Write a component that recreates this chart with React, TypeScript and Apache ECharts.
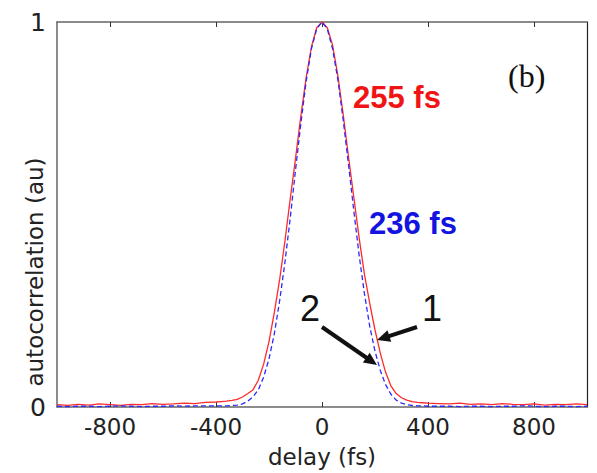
import React, { useEffect, useRef } from "react";
import * as echarts from "echarts";

const delaysLeft = [-1000, -960, -920, -880, -840, -800, -760, -720, -680, -640, -600, -560, -520, -480, -440];
const delaysCenter = [
  -400, -380, -360, -340, -320, -300, -280, -260, -240, -220, -200, -180, -160, -140, -120, -100, -80, -60, -40, -20,
  0, 20, 40, 60, 80, 100, 120, 140, 160, 180, 200, 220, 240, 260, 280, 300, 320, 340, 360, 380, 400,
];
const delaysRight = [440, 480, 520, 560, 600, 640, 680, 720, 760, 800, 840, 880, 920, 960, 1000];

const redLeft = [0.006, 0.004, 0.007, 0.005, 0.008, 0.006, 0.004, 0.007, 0.006, 0.009, 0.007, 0.008, 0.010, 0.009, 0.012];
const redCenter = [
  0.013, 0.014, 0.015, 0.017, 0.02, 0.026, 0.035, 0.045, 0.07, 0.112, 0.17, 0.245, 0.33, 0.43, 0.54, 0.645, 0.755, 0.855, 0.935, 0.985,
  1.0, 0.985, 0.94, 0.86, 0.76, 0.65, 0.545, 0.44, 0.345, 0.27, 0.2, 0.14, 0.09, 0.055, 0.035, 0.024, 0.018, 0.014, 0.012, 0.011, 0.010,
];
const redRight = [0.009, 0.008, 0.010, 0.007, 0.008, 0.006, 0.009, 0.007, 0.006, 0.008, 0.005, 0.007, 0.006, 0.008, 0.006];

const blueLeft = [0.002, 0.001, 0.002, 0.002, 0.001, 0.002, 0.003, 0.002, 0.001, 0.002, 0.002, 0.003, 0.002, 0.003, 0.003];
const blueCenter = [
  0.003, 0.003, 0.003, 0.004, 0.005, 0.008, 0.015, 0.027, 0.045, 0.078, 0.125, 0.19, 0.275, 0.375, 0.49, 0.615, 0.735, 0.845, 0.93, 0.982,
  1.0, 0.982, 0.93, 0.85, 0.745, 0.63, 0.51, 0.395, 0.295, 0.21, 0.145, 0.095, 0.058, 0.033, 0.018, 0.01, 0.006, 0.004, 0.003, 0.003, 0.002,
];
const blueRight = [0.002, 0.002, 0.001, 0.002, 0.002, 0.001, 0.002, 0.002, 0.003, 0.002, 0.001, 0.002, 0.002, 0.001, 0.002];

const xTicks = [-800, -400, 0, 400, 800];
const yTicks = [0, 1];

const delays = [...delaysLeft, ...delaysCenter, ...delaysRight];
const trace1 = [...redLeft, ...redCenter, ...redRight];
const trace2 = [...blueLeft, ...blueCenter, ...blueRight];

function arrow(x1: number, y1: number, x2: number, y2: number) {
  const dx = x2 - x1;
  const dy = y2 - y1;
  const len = Math.sqrt(dx * dx + dy * dy);
  const ux = dx / len;
  const uy = dy / len;
  const nx = -uy;
  const ny = ux;
  const hl = 13;
  const hw = 6;
  const bx = x2 - hl * ux;
  const by = y2 - hl * uy;
  return [
    {
      type: "line",
      shape: { x1, y1, x2: bx + ux * 2, y2: by + uy * 2 },
      style: { stroke: "#111", lineWidth: 4 },
      z: 10,
    },
    {
      type: "polygon",
      shape: {
        points: [
          [x2, y2],
          [bx + hw * nx, by + hw * ny],
          [bx - hw * nx, by - hw * ny],
        ],
      },
      style: { fill: "#111" },
      z: 10,
    },
  ];
}

export default function App() {
  const ref = useRef<HTMLDivElement>(null);
  useEffect(() => {
    if (!ref.current) return;
    const chart = echarts.init(ref.current, null, { renderer: "svg" });
    const labelFont = "DejaVu Sans";
    chart.setOption({
      animation: false,
      backgroundColor: "#fff",
      grid: { left: 57, right: 10, top: 22, bottom: 56, containLabel: false },
      xAxis: [
        {
          type: "value",
          min: -1000,
          max: 1000,
          position: "bottom",
          axisLine: { show: true, onZero: false, lineStyle: { color: "#666", width: 1.5 } },
          axisTick: { show: true, inside: true, length: 5, customValues: xTicks, lineStyle: { color: "#333" } },
          axisLabel: { customValues: xTicks, fontSize: 23, fontFamily: labelFont, color: "#222", margin: 8 },
          splitLine: { show: false },
          name: "delay (fs)",
          nameLocation: "middle",
          nameGap: 38,
          nameTextStyle: { fontSize: 23, fontFamily: labelFont, color: "#222" },
        },
        {
          type: "value",
          min: -1000,
          max: 1000,
          position: "top",
          axisLine: { show: true, onZero: false, lineStyle: { color: "#666", width: 1.5 } },
          axisTick: { show: true, inside: true, length: 5, customValues: xTicks, lineStyle: { color: "#333" } },
          axisLabel: { show: false },
          splitLine: { show: false },
        },
      ],
      yAxis: [
        {
          type: "value",
          min: 0,
          max: 1,
          interval: 1,
          position: "left",
          axisLine: { show: true, onZero: false, lineStyle: { color: "#666", width: 1.5 } },
          axisTick: { show: false },
          axisLabel: { customValues: yTicks, fontSize: 25, fontFamily: labelFont, color: "#222", margin: 11 },
          splitLine: { show: false },
        },
        {
          type: "value",
          min: 0,
          max: 1,
          interval: 1,
          position: "right",
          axisLine: { show: true, onZero: false, lineStyle: { color: "#222", width: 1.2 } },
          axisTick: { show: false },
          axisLabel: { show: false },
          splitLine: { show: false },
        },
      ],
      series: [
        {
          name: "1",
          type: "line",
          xAxisIndex: 0,
          yAxisIndex: 0,
          showSymbol: false,
          data: delays.map((d, i) => [d, trace1[i]]),
          lineStyle: { color: "#ff2a2a", width: 1.3 },
          z: 3,
        },
        {
          name: "2",
          type: "line",
          xAxisIndex: 0,
          yAxisIndex: 0,
          showSymbol: false,
          data: delays.map((d, i) => [d, trace2[i]]),
          lineStyle: { color: "#2a2aff", width: 1.3, type: [5, 3] },
          z: 4,
        },
      ],
      graphic: [
        {
          type: "text",
          x: 35,
          y: 272,
          rotation: Math.PI / 2,
          style: {
            text: "autocorrelation (au)",
            fontSize: 23,
            fontFamily: labelFont,
            fill: "#222",
            align: "center",
            verticalAlign: "middle",
          },
        },
        {
          type: "text",
          x: 353,
          y: 97,
          style: {
            text: "255 fs",
            fontSize: 31,
            fontWeight: "bold",
            fontFamily: "Liberation Sans",
            fill: "#f01414",
            align: "left",
            verticalAlign: "middle",
          },
        },
        {
          type: "text",
          x: 369,
          y: 223,
          style: {
            text: "236 fs",
            fontSize: 31,
            fontWeight: "bold",
            fontFamily: "Liberation Sans",
            fill: "#1414e0",
            align: "left",
            verticalAlign: "middle",
          },
        },
        {
          type: "text",
          x: 508,
          y: 76,
          style: {
            text: "(b)",
            fontSize: 32,
            fontFamily: "Liberation Serif",
            fill: "#111",
            align: "left",
            verticalAlign: "middle",
          },
        },
        {
          type: "text",
          x: 310,
          y: 308,
          style: {
            text: "2",
            fontSize: 36,
            fontFamily: "Liberation Sans",
            fill: "#111",
            align: "center",
            verticalAlign: "middle",
          },
        },
        {
          type: "text",
          x: 432,
          y: 308,
          style: {
            text: "1",
            fontSize: 36,
            fontFamily: "Liberation Sans",
            fill: "#111",
            align: "center",
            verticalAlign: "middle",
          },
        },
        ...arrow(417, 327, 377, 340),
        ...arrow(322, 327, 377, 365),
      ],
    });
    return () => chart.dispose();
  }, []);
  return (
    <div
      ref={ref}
      style={{ position: "fixed", left: 0, top: 0, width: 597, height: 473 }}
    />
  );
}
